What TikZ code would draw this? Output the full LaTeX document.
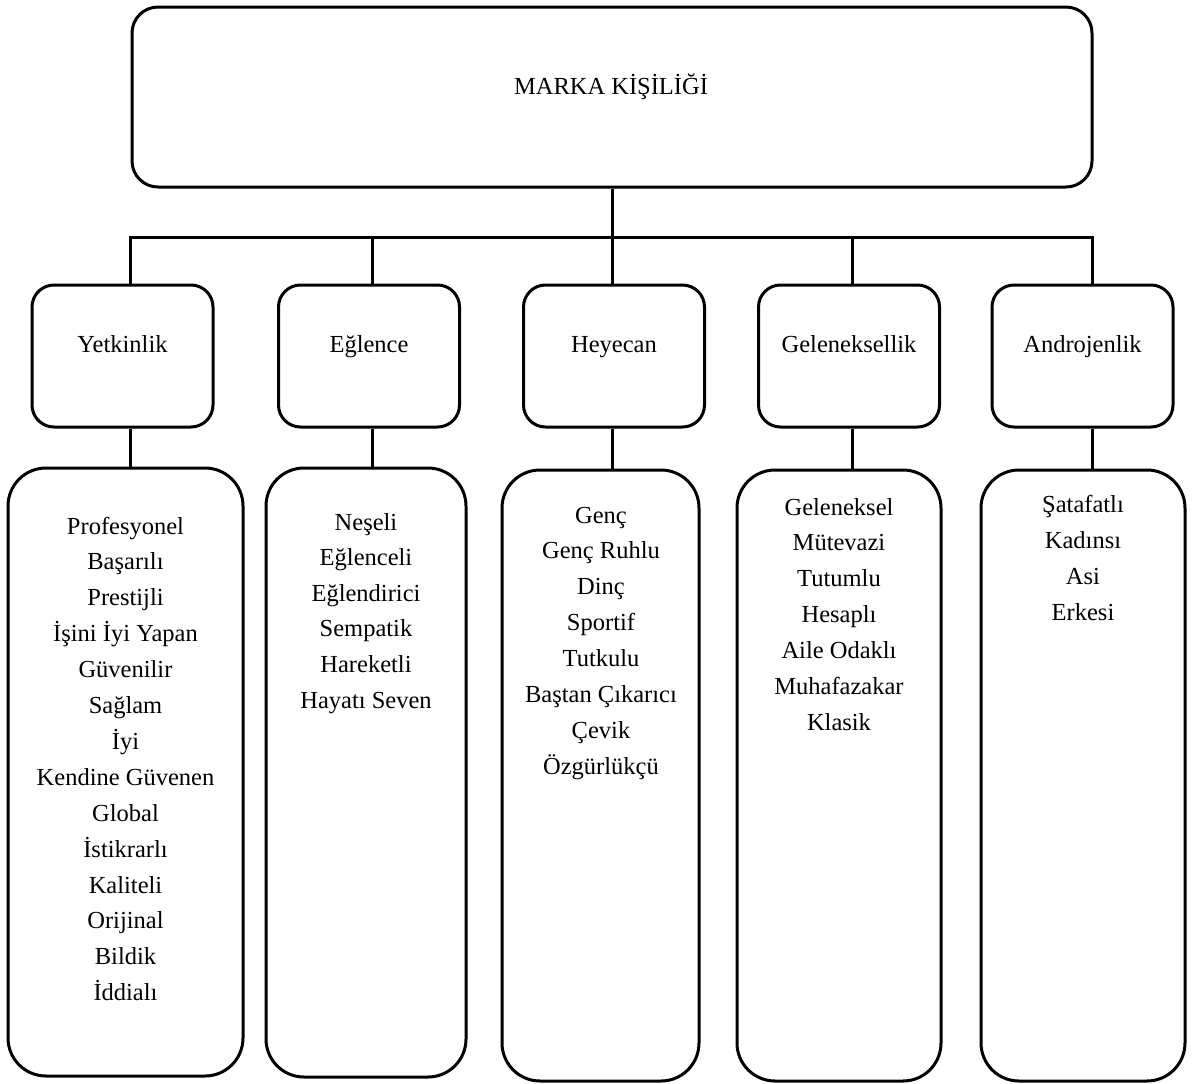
\documentclass[tikz,border=0pt]{standalone}
\usepackage{fontspec}
\setmainfont{Liberation Serif}
\begin{document}
\begin{tikzpicture}[x=1pt,y=-1pt]
\tikzset{
  lbl/.style={font=\fontsize{24.5}{36}\selectfont, inner sep=0pt, anchor=base},
  headbox/.style={draw, line width=3pt, rounded corners=26pt, inner sep=0pt},
  catbox/.style={draw, line width=3pt, rounded corners=22pt, inner sep=0pt,
                 minimum width=181pt, minimum height=142pt},
  listbox/.style={draw, line width=3pt, rounded corners=38pt, inner sep=0pt},
  link/.style={line width=3pt}
}
\useasboundingbox (0,0) rectangle (1197,1084);

% top box
\node[headbox, minimum width=960pt, minimum height=180pt] (brand) at (612,97) {};
\node[lbl] (brandtxt) at (611,94) {MARKA KİŞİLİĞİ};

% dimension boxes
\node[catbox] (cat1) at (122.5,356) {};
\node[catbox] (cat2) at (369,356) {};
\node[catbox] (cat3) at (614,356) {};
\node[catbox] (cat4) at (849,356) {};
\node[catbox] (cat5) at (1082.5,356) {};
\node[lbl] (cat1txt) at (122.5,352) {Yetkinlik};
\node[lbl] (cat2txt) at (369,352) {Eğlence};
\node[lbl] (cat3txt) at (614,352) {Heyecan};
\node[lbl] (cat4txt) at (849,352) {Geleneksellik};
\node[lbl] (cat5txt) at (1082.5,352) {Androjenlik};

% trait boxes
\node[listbox, minimum width=235pt, minimum height=608pt] (list1) at (125.5,772) {};
\node[listbox, minimum width=200pt, minimum height=609pt] (list2) at (366,772.5) {};
\node[listbox, minimum width=197pt, minimum height=611pt] (list3) at (600.5,775.5) {};
\node[listbox, minimum width=204pt, minimum height=611pt] (list4) at (839,775.5) {};
\node[listbox, minimum width=204pt, minimum height=611pt] (list5) at (1083,775.5) {};

% trait words
\foreach \w [count=\i] in {Profesyonel, Başarılı, Prestijli, İşini İyi Yapan,
    Güvenilir, Sağlam, İyi, Kendine Güvenen, Global, İstikrarlı, Kaliteli,
    Orijinal, Bildik, İddialı}
  \node[lbl] (ta\i) at (125.5,{534+35.9*(\i-1)}) {\w};
\foreach \w [count=\i] in {Neşeli, Eğlenceli, Eğlendirici, Sempatik,
    Hareketli, Hayatı Seven}
  \node[lbl] (tb\i) at (366,{530+35.6*(\i-1)}) {\w};
\foreach \w [count=\i] in {Genç, Genç Ruhlu, Dinç, Sportif, Tutkulu,
    Baştan Çıkarıcı, Çevik, Özgürlükçü}
  \node[lbl] (tc\i) at (601,{523+35.9*(\i-1)}) {\w};
\foreach \w [count=\i] in {Geleneksel, Mütevazi, Tutumlu, Hesaplı,
    Aile Odaklı, Muhafazakar, Klasik}
  \node[lbl] (td\i) at (839,{515+35.9*(\i-1)}) {\w};
\foreach \w [count=\i] in {Şatafatlı, Kadınsı, Asi, Erkesi}
  \node[lbl] (te\i) at (1083,{512+36*(\i-1)}) {\w};

% connectors
\coordinate (j1) at (130,237);
\coordinate (j2) at (372,237);
\coordinate (j3) at (612,237);
\coordinate (j4) at (852,237);
\coordinate (j5) at (1092,237);
\draw[link] (brand.south) -- (brand.south |- j3);
\draw[link] (j1 |- cat1.north) -- (j1) -- (j5) -- (j5 |- cat5.north);
\foreach \k in {2,3,4}
  \draw[link] (j\k) -- (j\k |- cat\k.north);
\foreach \k in {1,...,5}
  \draw[link] (j\k |- cat\k.south) -- (j\k |- list\k.north);
\end{tikzpicture}
\end{document}
